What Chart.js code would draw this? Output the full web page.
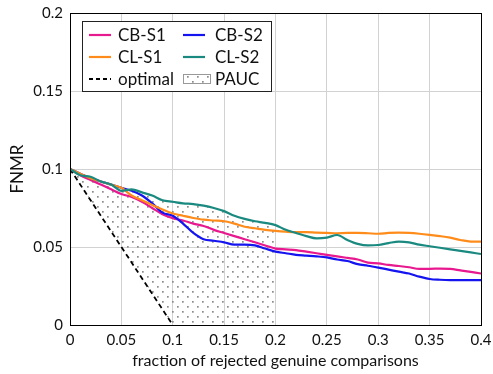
<!DOCTYPE html>
<html><head><meta charset="utf-8">
<script src="https://cdn.jsdelivr.net/npm/chart.js@4/dist/chart.umd.min.js"></script>
<style>html,body{margin:0;padding:0;background:#fff}#wrap{width:493px;height:374px}</style>
</head><body><div id="wrap"><canvas id="c" width="493" height="374"></canvas></div>
<script>
// ---- data ----
const fracRejected = [0,0.01,0.02,0.03,0.04,0.05,0.06,0.07,0.08,0.09,0.10,0.11,0.12,0.13,0.14,0.15,0.16,0.17,0.18,0.19,0.20,0.21,0.22,0.23,0.24,0.25,0.26,0.27,0.28,0.29,0.30,0.31,0.32,0.33,0.34,0.35,0.36,0.37,0.38,0.39,0.40];
const cbS1 = [0.100,0.096,0.093,0.090,0.087,0.084,0.082,0.079,0.075,0.071,0.0685,0.067,0.065,0.0635,0.061,0.059,0.057,0.055,0.053,0.051,0.049,0.0485,0.048,0.047,0.046,0.045,0.044,0.043,0.042,0.040,0.0395,0.0385,0.0378,0.037,0.036,0.036,0.0362,0.036,0.035,0.034,0.033];
const cbS2 = [0.100,0.097,0.094,0.092,0.090,0.088,0.086,0.083,0.078,0.072,0.070,0.065,0.059,0.055,0.054,0.053,0.0515,0.0515,0.051,0.049,0.047,0.046,0.045,0.0445,0.044,0.0433,0.042,0.041,0.039,0.038,0.0368,0.0355,0.0342,0.033,0.031,0.0295,0.029,0.0288,0.0288,0.0288,0.0288];
const clS1 = [0.100,0.097,0.094,0.092,0.090,0.088,0.083,0.080,0.077,0.074,0.0715,0.070,0.0686,0.0675,0.067,0.0665,0.065,0.063,0.062,0.061,0.0603,0.0598,0.0595,0.0595,0.0592,0.059,0.0588,0.059,0.059,0.0588,0.0585,0.059,0.0592,0.059,0.0585,0.0578,0.057,0.056,0.0545,0.0535,0.0535];
const clS2 = [0.100,0.096,0.095,0.092,0.090,0.086,0.087,0.085,0.083,0.080,0.079,0.078,0.0775,0.0765,0.075,0.073,0.070,0.068,0.0665,0.0655,0.064,0.061,0.059,0.057,0.0555,0.056,0.0577,0.0545,0.052,0.051,0.0513,0.0525,0.0535,0.053,0.0515,0.0505,0.0495,0.0485,0.0475,0.0465,0.0455];
const optimalX = [0, 0.1, 0.2];
const optimalY = [0.1, 0, 0];
const paucLimit = 0.2;
const xTickLabels = ['0','0.05','0.1','0.15','0.2','0.25','0.3','0.35','0.4'];
const yTickLabels = ['0','0.05','0.1','0.15','0.2'];

// ---- build ----
const pts = (xs, ys) => xs.map((x, i) => ({x, y: ys[i]}));
const paucPts = pts(fracRejected, clS2).filter(p => p.x <= paucLimit + 1e-9);

const pc = document.createElement('canvas');
pc.width = 10; pc.height = 10;
const pctx = pc.getContext('2d');
pctx.fillStyle = '#8c8c8c';
pctx.fillRect(2, 1, 1.7, 1.7);
pctx.fillRect(7, 6, 1.7, 1.7);
const dotPattern = pctx.createPattern(pc, 'repeat');

const FONT = 'Lato';
const colors = {cbS1:'#e8188f', cbS2:'#1414f0', clS1:'#ff8c1a', clS2:'#1a8a80'};

const legendItems = [
  {label:'CB-S1', color:colors.cbS1, col:0, row:0},
  {label:'CB-S2', color:colors.cbS2, col:1, row:0},
  {label:'CL-S1', color:colors.clS1, col:0, row:1},
  {label:'CL-S2', color:colors.clS2, col:1, row:1},
  {label:'optimal', color:'#000', dash:[4,3], col:0, row:2},
  {label:'PAUC', pattern:true, col:1, row:2}
];

const legendPlugin = {
  id: 'boxLegend',
  afterDatasetsDraw(chart) {
    const ctx = chart.ctx;
    ctx.save();
    ctx.fillStyle = '#fff';
    ctx.fillRect(82.5, 21.5, 189, 70);
    ctx.strokeStyle = '#222'; ctx.lineWidth = 1;
    ctx.strokeRect(82.5, 21.5, 189, 70);
    const colX = [89, 183], rowY = [35, 57, 79];
    ctx.font = '17px ' + FONT;
    ctx.textBaseline = 'middle';
    legendItems.forEach(it => {
      const x = colX[it.col], y = rowY[it.row];
      if (it.pattern) {
        ctx.fillStyle = dotPattern;
        ctx.fillRect(x, y - 4.5, 27, 9);
        ctx.strokeStyle = '#999'; ctx.lineWidth = 1;
        ctx.strokeRect(x + 0.5, y - 4.5, 27, 9);
      } else {
        ctx.strokeStyle = it.color; ctx.lineWidth = 2.2;
        ctx.setLineDash(it.dash || []);
        ctx.beginPath(); ctx.moveTo(x, y); ctx.lineTo(x + 22, y); ctx.stroke();
        ctx.setLineDash([]);
      }
      ctx.fillStyle = '#111';
      ctx.fillText(it.label, x + (it.col ? 32 : 29), y + 1);
    });
    ctx.restore();
  }
};
const framePlugin = {
  id: 'frame',
  afterDatasetsDraw(chart) {
    const a = chart.chartArea, ctx = chart.ctx;
    ctx.save(); ctx.strokeStyle = '#000'; ctx.lineWidth = 1;
    ctx.strokeRect(Math.round(a.left) + 0.5, Math.round(a.top) + 0.5, Math.round(a.right - a.left), Math.round(a.bottom - a.top));
    ctx.restore();
  }
};

const lineDs = (label, ys, color, order) => ({
  label, data: pts(fracRejected, ys), borderColor: color, backgroundColor: color,
  borderWidth: 2.2, pointRadius: 0, cubicInterpolationMode: 'monotone', fill: false, order
});

new Chart(document.getElementById('c'), {
  type: 'line',
  data: {
    datasets: [
      lineDs('CB-S1', cbS1, colors.cbS1, 3),
      lineDs('CB-S2', cbS2, colors.cbS2, 2),
      lineDs('CL-S1', clS1, colors.clS1, 1),
      lineDs('CL-S2', clS2, colors.clS2, 0),
      {label:'optimal', data: pts(optimalX.slice(0,2), optimalY.slice(0,2)), borderColor:'#000', borderWidth:1.8,
       borderDash:[5,3.5], pointRadius:0, tension:0, fill:false, order:4},
      {label:'paucBase', data: pts(optimalX, optimalY), borderWidth:0, borderColor:'rgba(0,0,0,0)', pointRadius:0, tension:0, fill:false, order:6},
      {label:'PAUC', data: paucPts, borderWidth:0, borderColor:'rgba(0,0,0,0)', pointRadius:0,
       cubicInterpolationMode:'monotone', backgroundColor: dotPattern, fill: {target: 5}, order:5}
    ]
  },
  options: {
    responsive: false, animation: false, devicePixelRatio: 1,
    layout: {padding: {left: 3, right: 12, top: 13, bottom: 0}},
    plugins: {legend: {display: false}, tooltip: {enabled: false}},
    scales: {
      x: {
        type: 'linear', min: 0, max: 0.4,
        afterFit(s) { s.height = 49; s.paddingLeft = 0; s.paddingRight = 0; },
        ticks: {stepSize: 0.05, padding: 6, color: '#111', font: {family: FONT, size: 15}, maxRotation: 0,
          callback: (v) => xTickLabels[Math.round(v / 0.05)]},
        grid: {color: '#d2d2d2', drawTicks: false},
        border: {color: '#000'},
        title: {display: true, text: 'fraction of rejected genuine comparisons', color: '#111',
          font: {family: FONT, size: 16}, padding: {top: 2}}
      },
      y: {
        min: 0, max: 0.2,
        afterFit(s) { s.width = 67; s.paddingTop = 0; s.paddingBottom = 0; },
        ticks: {stepSize: 0.05, padding: 7, color: '#111', font: {family: FONT, size: 15},
          callback: (v) => yTickLabels[Math.round(v / 0.05)]},
        grid: {color: '#d2d2d2', drawTicks: false},
        border: {color: '#000'},
        title: {display: true, text: 'FNMR', color: '#111', font: {family: FONT, size: 17}, padding: {bottom: 2}}
      }
    }
  },
  plugins: [framePlugin, legendPlugin]
});
</script></body></html>
